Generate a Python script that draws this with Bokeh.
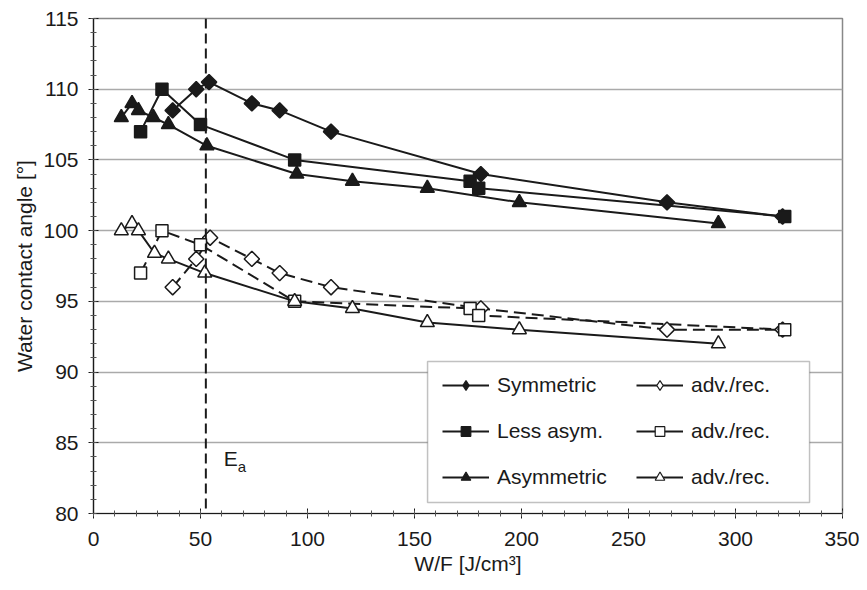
from bokeh.plotting import figure
from bokeh.models import (Range1d, Legend, LegendItem, Span, Label,
                          SingleIntervalTicker, BoxAnnotation)
from bokeh.embed import file_html
from bokeh.resources import INLINE
import math

# ---------------- data ----------------
sym_x = [37, 48, 54, 74, 87, 111, 181, 268, 322]
sym_y = [108.5, 110, 110.5, 109, 108.5, 107, 104, 102, 101]
sym_adv_x = [37, 48, 54.5, 74, 87, 111, 181, 268, 322]
sym_adv_y = [96, 98, 99.5, 98, 97, 96, 94.5, 93, 93]

less_x = [22, 32, 50, 94, 176, 180, 323]
less_y = [107, 110, 107.5, 105, 103.5, 103, 101]
less_adv_x = [22, 32, 50, 94, 176, 180, 323]
less_adv_y = [97, 100, 99, 95, 94.5, 94, 93]

asym_x = [13, 18, 21, 28, 35, 53, 95, 121, 156, 199, 292]
asym_y = [108, 109, 108.5, 108, 107.5, 106, 104, 103.5, 103, 102, 100.5]
asym_adv_x = [13, 18, 21, 28.5, 35, 52, 94, 121, 156, 199, 292]
asym_adv_y = [100, 100.5, 100, 98.4, 98, 97, 95, 94.5, 93.5, 93, 92]

ea_x = 52.5
legend_labels_left = ["Symmetric", "Less asym.", "Asymmetric"]
legend_labels_right = ["adv./rec.", "adv./rec.", "adv./rec."]
x_label = "W/F [J/cm\u00b3]"
y_label = "Water contact angle [\u00b0]"

FONT = "Liberation Sans"
BLACK = "#1a1a1a"

p = figure(width=859, height=582, output_backend="svg", toolbar_location=None,
           x_range=Range1d(0, 350), y_range=Range1d(80, 115),
           min_border_left=93, min_border_right=17, min_border_top=18,
           min_border_bottom=69)

p.background_fill_color = "white"
p.border_fill_color = "white"
p.outline_line_color = "#888888"
p.outline_line_width = 1.5

# axes
p.xaxis.ticker = SingleIntervalTicker(interval=50, num_minor_ticks=5)
p.yaxis.ticker = SingleIntervalTicker(interval=5, num_minor_ticks=5)
for ax in (p.xaxis[0], p.yaxis[0]):
    ax.axis_line_color = BLACK
    ax.axis_line_width = 1.2
    ax.major_tick_line_color = BLACK
    ax.minor_tick_line_color = "#555555"
    ax.major_tick_in = 5
    ax.major_tick_out = 5
    ax.minor_tick_in = 3
    ax.minor_tick_out = 3
    ax.major_label_text_font = FONT
    ax.major_label_text_font_size = "21px"
    ax.major_label_text_color = BLACK
    ax.axis_label_text_font = FONT
    ax.axis_label_text_font_size = "21px"
    ax.axis_label_text_font_style = "normal"
    ax.axis_label_text_color = BLACK
p.xaxis.axis_label = x_label
p.yaxis.axis_label = y_label
p.xaxis.major_label_standoff = 13
p.yaxis.major_label_standoff = 10
p.xaxis.axis_label_standoff = 3
p.yaxis.axis_label_standoff = 4

p.xgrid.grid_line_color = None
p.ygrid.grid_line_color = "#aaaaaa"
p.ygrid.grid_line_width = 1.5

# Ea line
p.add_layout(Span(location=ea_x, dimension="height", line_color=BLACK,
                  line_width=2, line_dash="10 5"))
p.add_layout(Label(x=ea_x, y=83.1, x_offset=18, text="E", text_font=FONT,
                   text_font_size="21px", text_color=BLACK))
p.add_layout(Label(x=ea_x, y=83.1, x_offset=32, y_offset=-5, text="a",
                   text_font=FONT, text_font_size="15px", text_color=BLACK))

DIAMOND_ANGLE = math.pi / 4


def series(xs, ys, marker, fill, dash, size, small):
    line = p.line(xs, ys, line_color=BLACK, line_width=2, line_dash=dash)
    # small copy of the markers used only for the legend sample (hidden
    # underneath the full-size markers)
    legend_pts = p.scatter(xs, ys, marker=marker, size=small,
                           fill_color=fill, line_color=BLACK, line_width=1.2)
    if marker == "diamond":
        p.scatter(xs, ys, marker="square", angle=DIAMOND_ANGLE,
                  size=size * 0.72, fill_color=fill, line_color=BLACK,
                  line_width=1.5)
    else:
        p.scatter(xs, ys, marker=marker, size=size, fill_color=fill,
                  line_color=BLACK, line_width=1.5)
    return line, legend_pts


l_sym, m_sym = series(sym_x, sym_y, "diamond", BLACK, "solid", 15, 12)
l_less, m_less = series(less_x, less_y, "square", BLACK, "solid", 12, 9)
l_asym, m_asym = series(asym_x, asym_y, "triangle", BLACK, "solid", 14, 10)
l_sa, m_sa = series(sym_adv_x, sym_adv_y, "diamond", "white", "12 6", 15, 12)
l_la, m_la = series(less_adv_x, less_adv_y, "square", "white", "12 6", 12, 9)
l_aa, m_aa = series(asym_adv_x, asym_adv_y, "triangle", "white", "solid", 14, 10)

# legend frame
p.add_layout(BoxAnnotation(left=156.1, right=334.6, top=90.75, bottom=80.78,
                           fill_color="white", fill_alpha=1,
                           line_color="#333333", line_width=1.5))

left_items = [LegendItem(label=legend_labels_left[0], renderers=[l_sym, m_sym]),
              LegendItem(label=legend_labels_left[1], renderers=[l_less, m_less]),
              LegendItem(label=legend_labels_left[2], renderers=[l_asym, m_asym])]
# adv./rec. samples are drawn with a solid line, as in the original legend
right_items = [LegendItem(label=legend_labels_right[0], renderers=[l_aa, m_sa]),
               LegendItem(label=legend_labels_right[1], renderers=[l_aa, m_la]),
               LegendItem(label=legend_labels_right[2], renderers=[l_aa, m_aa])]


def make_legend(items, loc):
    lg = Legend(items=items, location=loc, orientation="vertical")
    lg.label_text_font = FONT
    lg.label_text_font_size = "21px"
    lg.label_text_color = BLACK
    lg.glyph_width = 47
    lg.glyph_height = 24
    lg.label_height = 24
    lg.label_standoff = 8
    lg.spacing = 22
    lg.padding = 0
    lg.margin = 0
    lg.border_line_color = None
    lg.background_fill_alpha = 0
    lg.click_policy = "none"
    return lg


p.add_layout(make_legend(left_items, (349, 24)))
p.add_layout(make_legend(right_items, (543, 24)))

open("out.html", "w").write(file_html(p, INLINE))
